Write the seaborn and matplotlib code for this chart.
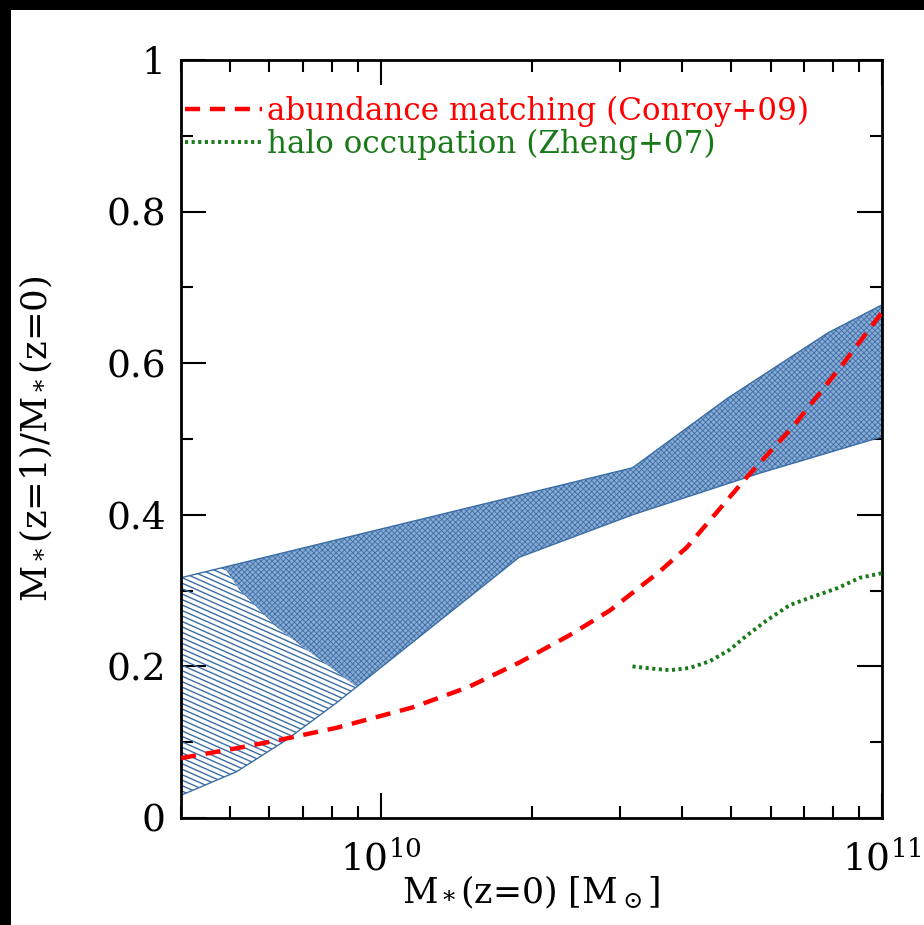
import numpy as np
import pandas as pd
import matplotlib
matplotlib.use("Agg")
import matplotlib.pyplot as plt
import seaborn as sns
from matplotlib.patches import Polygon, Rectangle
from matplotlib.ticker import (FixedLocator, FixedFormatter, NullFormatter,
                               LogLocator, MultipleLocator)

# Allowed band of M*(z=1)/M*(z=0): upper and lower envelopes
band_upper_mass = [4.0e9, 3.18e10, 4.9e10, 7.8e10, 1.0e11]
band_upper_frac = [0.317, 0.462, 0.553, 0.640, 0.677]
band_lower_mass = [4.0e9, 5.16e9, 6.49e9, 8.17e9, 8.96e9, 1.89e10, 3.18e10, 5.71e10, 1.0e11]
band_lower_frac = [0.030, 0.061, 0.103, 0.152, 0.173, 0.344, 0.400, 0.455, 0.503]
# edge between the low-mass (striped) and the cross-hatched part of the band
split_mass = [4.88e9, 5.23e9, 5.55e9, 6.2e9, 6.99e9, 8.96e9]
split_frac = [0.331, 0.301, 0.284, 0.252, 0.226, 0.173]

# abundance matching (Conroy+09)
conroy_mass = [4.0e9, 5.16e9, 6.29e9, 8.17e9, 1.16e10, 1.5e10, 1.89e10, 2.38e10,
               2.87e10, 3.6e10, 4.08e10, 5.38e10, 6.64e10, 8.36e10, 1.0e11]
conroy_frac = [0.079, 0.092, 0.103, 0.119, 0.146, 0.173, 0.205, 0.241,
               0.274, 0.325, 0.357, 0.450, 0.516, 0.599, 0.667]

# halo occupation (Zheng+07)
zheng_mass = [3.18e10, 3.49e10, 3.78e10, 4.14e10, 4.54e10, 4.97e10, 5.38e10,
              5.9e10, 6.55e10, 7.28e10, 8.13e10, 9.04e10, 1.0e11]
zheng_frac = [0.200, 0.197, 0.195, 0.198, 0.207, 0.222, 0.241,
              0.261, 0.281, 0.292, 0.303, 0.317, 0.323]

series_labels = ["abundance matching (Conroy+09)", "halo occupation (Zheng+07)"]
y_ticks = [0, 0.2, 0.4, 0.6, 0.8, 1]
y_tick_labels = ["0", "0.2", "0.4", "0.6", "0.8", "1"]
x_ticks = [1e10, 1e11]
x_tick_labels = [r"$10^{10}$", r"$10^{11}$"]

sns.set_theme(style="white")
plt.rcParams["font.family"] = ["DejaVu Serif"]
plt.rcParams["mathtext.fontset"] = "dejavuserif"
plt.rcParams["hatch.linewidth"] = 0.6

BLUE = "#3b6ea6"
RED = "#ff0000"
GREEN = "#1a7a1a"

W, H = 924, 925
fig = plt.figure(figsize=(W / 100, H / 100), dpi=100, facecolor="black")
fig.add_artist(Rectangle((11 / W, 0), 1, (H - 10) / H, transform=fig.transFigure,
                         facecolor="white", edgecolor="none", zorder=0))
ax_l, ax_r, ax_t, ax_b = 181, 882, 60, 818
ax = fig.add_axes([ax_l / W, (H - ax_b) / H, (ax_r - ax_l) / W, (ax_b - ax_t) / H])
ax.set_facecolor("white")
ax.set_xscale("log")

# --- band: striped low-mass part -------------------------------------------
n_low = band_lower_mass.index(split_mass[-1]) + 1
striped_verts = (list(zip(band_lower_mass[:n_low], band_lower_frac[:n_low]))
                 + list(zip(split_mass[::-1], split_frac[::-1]))
                 + [(band_upper_mass[0], band_upper_frac[0])])
striped = Polygon(striped_verts, closed=True, facecolor="none", edgecolor="none")
ax.add_patch(striped)

# hatch texture of tilted parallel lines, clipped to the striped region
w_px, h_px = ax_r - ax_l, ax_b - ax_t
theta = np.deg2rad(24)
gap = 5.0 / np.cos(theta)
for off in np.arange(0, h_px + w_px * np.tan(theta), gap):
    ln, = ax.plot([0, 1], [off / h_px, (off - w_px * np.tan(theta)) / h_px],
                  transform=ax.transAxes, color=BLUE, lw=1.0, zorder=1)
    ln.set_clip_path(striped)

# --- band: cross-hatched part -----------------------------------------------
cross_verts = (list(zip(split_mass, split_frac))
               + list(zip(band_lower_mass[n_low:], band_lower_frac[n_low:]))
               + [(m, f) for m, f in zip(band_upper_mass[::-1], band_upper_frac[::-1])
                  if m > split_mass[0]])
ax.add_patch(Polygon(cross_verts, closed=True, facecolor="#89aad2",
                     edgecolor="#3d70a8", hatch="xxxxxx", lw=0, zorder=1))

# band envelopes
sns.lineplot(x=band_upper_mass, y=band_upper_frac, color=BLUE, lw=1.0, ax=ax,
             legend=False, zorder=2)
sns.lineplot(x=band_lower_mass, y=band_lower_frac, color=BLUE, lw=1.0, ax=ax,
             legend=False, zorder=2)

# model curves
conroy = pd.DataFrame({"mass": conroy_mass, "frac": conroy_frac})
zheng = pd.DataFrame({"mass": zheng_mass, "frac": zheng_frac})
sns.lineplot(data=conroy, x="mass", y="frac", color=RED, lw=3.2, ax=ax,
             legend=False, zorder=3)
red_line = ax.lines[-1]
red_line.set_dashes((3.4, 2.2))
sns.lineplot(data=zheng, x="mass", y="frac", color=GREEN, lw=2.8, ax=ax,
             legend=False, zorder=3)
green_line = ax.lines[-1]
green_line.set_dashes((0.8, 0.9))

ax.set_xlim(4e9, 1e11)
ax.set_ylim(0, 1)

# axes frame and ticks
for sp in ax.spines.values():
    sp.set_visible(True)
    sp.set_color("black")
    sp.set_linewidth(2.0)
ax.xaxis.set_major_locator(FixedLocator(x_ticks))
ax.xaxis.set_major_formatter(FixedFormatter(x_tick_labels))
ax.xaxis.set_minor_locator(LogLocator(base=10, subs=range(2, 10)))
ax.xaxis.set_minor_formatter(NullFormatter())
ax.yaxis.set_major_locator(FixedLocator(y_ticks))
ax.yaxis.set_major_formatter(FixedFormatter(y_tick_labels))
ax.yaxis.set_minor_locator(MultipleLocator(0.1))
ax.tick_params(which="both", direction="in", top=True, right=True, bottom=True,
               left=True, width=1.5, color="black", labelsize=27,
               labelcolor="black")
ax.tick_params(which="major", length=18)
ax.tick_params(which="minor", length=8.6)
ax.tick_params(axis="x", which="major", pad=16)
ax.tick_params(axis="y", which="major", pad=11)

ax.set_xlabel(r"M$_*$(z=0) [M$_\odot$]", fontsize=25, color="black")
ax.set_ylabel(r"M$_*$(z=1)/M$_*$(z=0)", fontsize=25.5, color="black")
ax.xaxis.set_label_coords(0.5, -0.073)
ax.yaxis.set_label_coords(-0.18, 0.5)

ax.legend(handles=[red_line, green_line], labels=series_labels,
          loc="upper left", bbox_to_anchor=(0.006, 0.953), frameon=False,
          fontsize=22.3, handlelength=2.48, handletextpad=0.16, labelspacing=0.05,
          borderpad=0, borderaxespad=0, labelcolor="linecolor")

fig.savefig("out.png", dpi=100, facecolor=fig.get_facecolor())
